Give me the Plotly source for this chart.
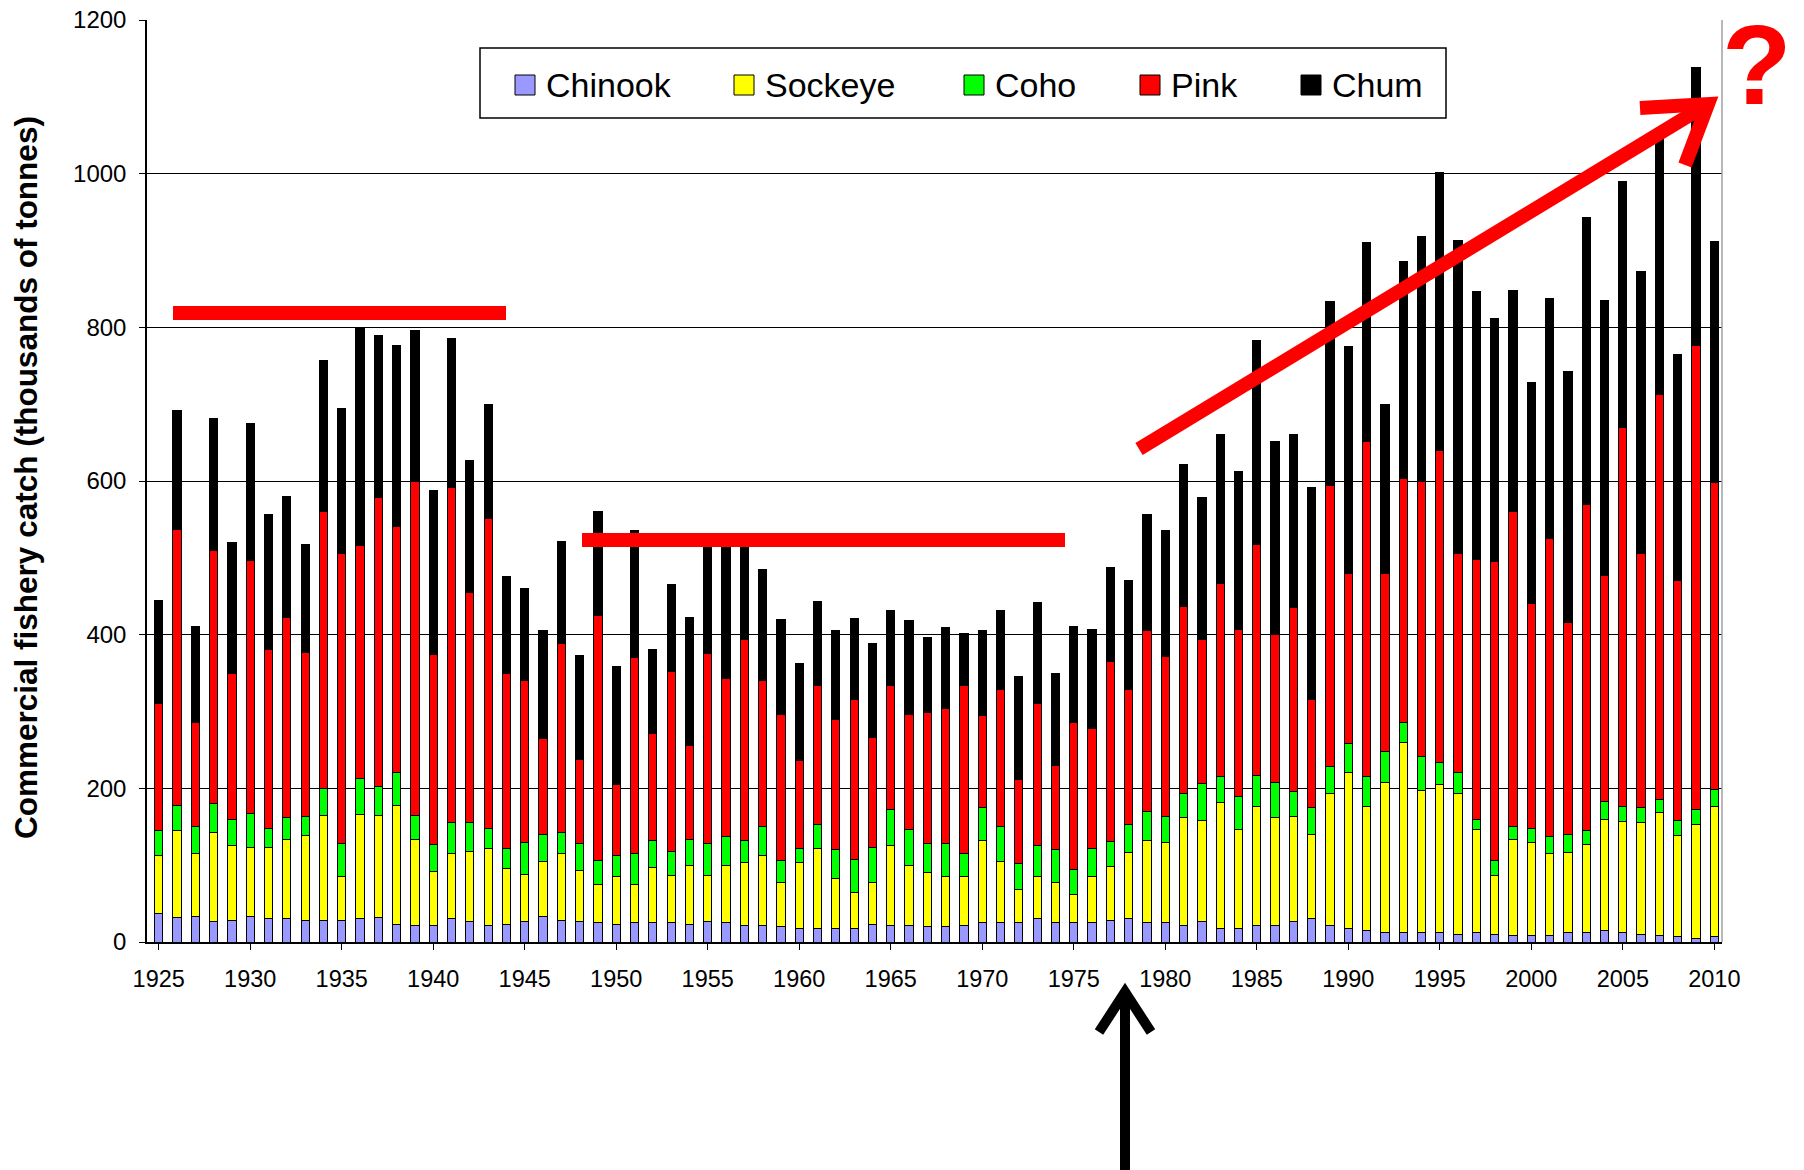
import plotly.graph_objects as go

years = list(range(1925, 2011))

chinook = [37, 32, 33, 27, 28, 33, 30, 30, 28, 28, 28, 30, 32, 23, 22, 22, 30, 27, 22, 23,
           27, 33, 28, 27, 25, 23, 25, 25, 25, 23, 27, 25, 22, 22, 20, 18, 18, 18, 18, 23,
           22, 22, 20, 20, 22, 25, 25, 25, 30, 25, 25, 25, 28, 30, 25, 25, 22, 27, 18, 18,
           22, 22, 27, 30, 22, 18, 15, 13, 13, 13, 13, 10, 13, 10, 8, 8, 8, 13, 12, 15,
           12, 10, 8, 7, 5, 7]
sockeye = [76, 113, 82, 115, 97, 90, 93, 103, 110, 137, 57, 136, 133, 155, 111, 70, 85, 91, 100, 73,
           61, 72, 87, 66, 50, 62, 50, 72, 62, 77, 60, 75, 81, 91, 57, 85, 104, 65, 47, 55,
           103, 78, 70, 65, 63, 107, 80, 43, 55, 53, 37, 60, 70, 87, 107, 105, 140, 131, 164, 128,
           155, 140, 136, 110, 171, 202, 162, 195, 247, 184, 192, 183, 134, 77, 125, 122, 107, 104, 115, 145,
           145, 145, 160, 131, 148, 170]
coho = [32, 33, 35, 38, 35, 44, 25, 29, 25, 35, 43, 47, 38, 42, 32, 35, 40, 37, 26, 26,
        42, 35, 28, 35, 31, 28, 40, 35, 31, 33, 41, 37, 29, 37, 29, 19, 31, 37, 42, 45,
        47, 46, 38, 43, 30, 43, 45, 34, 40, 42, 33, 37, 33, 36, 38, 33, 31, 48, 33, 44,
        40, 46, 33, 35, 35, 38, 38, 40, 26, 45, 28, 27, 13, 19, 17, 18, 22, 23, 18, 23,
        19, 20, 17, 20, 19, 21]
pink = [165, 359, 136, 329, 190, 330, 233, 261, 214, 360, 378, 303, 376, 321, 435, 247, 436, 300, 403, 227,
        210, 125, 245, 110, 319, 92, 255, 140, 234, 123, 248, 206, 262, 190, 190, 114, 181, 169, 209, 143,
        162, 150, 171, 176, 219, 120, 178, 109, 185, 110, 191, 156, 234, 176, 235, 208, 244, 188, 252, 217,
        301, 192, 239, 141, 366, 222, 436, 232, 317, 358, 407, 286, 338, 389, 410, 293, 388, 276, 425, 294,
        493, 331, 527, 312, 605, 400]
chum = [135, 155, 124, 173, 170, 178, 176, 157, 140, 197, 188, 284, 211, 236, 196, 213, 194, 172, 149, 127,
        120, 140, 133, 135, 135, 153, 165, 109, 113, 167, 154, 182, 126, 145, 124, 126, 109, 116, 105, 122,
        98, 122, 97, 105, 68, 111, 104, 134, 132, 120, 124, 129, 122, 141, 152, 164, 185, 184, 193, 205,
        265, 252, 225, 275, 239, 295, 259, 220, 283, 318, 362, 407, 349, 317, 288, 287, 313, 327, 373, 358,
        321, 367, 333, 295, 361, 314]

species = ["Chinook", "Sockeye", "Coho", "Pink", "Chum"]
colors = ["#9999FF", "#FFFF00", "#00FF00", "#FF0000", "#000000"]
series = [chinook, sockeye, coho, pink, chum]

y_ticks = [0, 200, 400, 600, 800, 1000, 1200]
x_ticks = list(range(1925, 2011, 5))

OFF = 8  # page body margin
W, H = 1804 - OFF, 1170 - OFF
PW, PH = 1575, 922
ML, MT = 147 - OFF, 20 - OFF
MR, MB = W - ML - PW, H - MT - PH
FONT = "Liberation Sans, Arial, sans-serif"


def px(x):
    return (x - OFF - ML) / PW


def py(y):
    return 1 - (y - OFF - MT) / PH


fig = go.Figure()
for name, vals, col in zip(species, series, colors):
    fig.add_trace(go.Bar(
        x=years, y=vals, name=name, width=0.45, showlegend=False,
        marker=dict(color=col, line=dict(color="black", width=1)),
    ))

shapes = []
red = "#FF0000"
# plot area right border
shapes.append(dict(type="line", xref="paper", yref="paper", x0=1, x1=1, y0=0, y1=1,
                   line=dict(color="#A0A0A0", width=1.5)))
# red horizontal bars
shapes.append(dict(type="line", xref="paper", yref="paper", x0=px(173), x1=px(506), y0=py(313), y1=py(313),
                   line=dict(color=red, width=14)))
shapes.append(dict(type="line", xref="paper", yref="paper", x0=px(582), x1=px(1065), y0=py(540), y1=py(540),
                   line=dict(color=red, width=14)))
# red arrow shaft + head
shapes.append(dict(type="line", xref="paper", yref="paper", x0=px(1139), y0=py(449), x1=px(1708), y1=py(104),
                   line=dict(color=red, width=14)))
shapes.append(dict(type="path", xref="paper", yref="paper",
                   path="M %f,%f L %f,%f L %f,%f" % (px(1640), py(108), px(1708), py(104), px(1685), py(165)),
                   line=dict(color=red, width=14)))
# black arrow
shapes.append(dict(type="line", xref="paper", yref="paper", x0=px(1125), y0=py(1175), x1=px(1125), y1=py(990),
                   line=dict(color="black", width=10)))
shapes.append(dict(type="path", xref="paper", yref="paper",
                   path="M %f,%f L %f,%f L %f,%f" % (px(1099), py(1032), px(1125), py(992), px(1151), py(1032)),
                   line=dict(color="black", width=10)))

# legend box
shapes.append(dict(type="rect", xref="paper", yref="paper", x0=px(480), x1=px(1446), y0=py(48), y1=py(118),
                   line=dict(color="black", width=1.5), fillcolor="white", layer="above"))
annotations = []
sq_x = [515, 734, 964, 1140, 1301]
for sx, name, col in zip(sq_x, species, colors):
    shapes.append(dict(type="rect", xref="paper", yref="paper", x0=px(sx), x1=px(sx + 20), y0=py(75), y1=py(95),
                       line=dict(color="black", width=1), fillcolor=col, layer="above"))
    annotations.append(dict(xref="paper", yref="paper", x=px(sx + 29), y=py(85), text=name, showarrow=False,
                            xanchor="left", yanchor="middle", font=dict(family=FONT, size=34, color="black")))

annotations.append(dict(xref="paper", yref="paper", x=px(1757), y=py(64), text="<b>?</b>", showarrow=False,
                        xanchor="center", yanchor="middle", borderpad=0,
                        font=dict(family=FONT, size=114, color=red)))

# y-axis title
annotations.append(dict(xref="paper", yref="paper", x=px(26), y=py(478), textangle=-90,
                        text="<b>Commercial fishery catch (thousands of tonnes)</b>", showarrow=False,
                        xanchor="center", yanchor="middle", font=dict(family=FONT, size=31.5, color="black")))

fig.update_layout(
    width=W, height=H, barmode="stack", bargap=0.55,
    margin=dict(l=ML, r=MR, t=MT, b=MB, autoexpand=False),
    paper_bgcolor="white", plot_bgcolor="white",
    font=dict(family=FONT, size=23, color="black"),
    shapes=shapes, annotations=annotations,
    xaxis=dict(range=[1924.36, 2010.42], tickmode="array", tickvals=x_ticks,
               ticktext=[str(v) for v in x_ticks],
               showgrid=False, showline=True, linecolor="black", linewidth=1.5, ticks="outside",
               ticklen=6, tickcolor="black", ticklabelstandoff=9, tickfont=dict(size=23.5),
               zeroline=False, ticklabeloverflow="allow"),
    yaxis=dict(range=[0, 1200], tickmode="array", tickvals=y_ticks, showgrid=True, gridcolor="black",
               gridwidth=1, showline=True, linecolor="black", linewidth=1.5, ticks="outside", ticklen=6,
               tickcolor="black", tickfont=dict(size=24), zeroline=False, ticklabelstandoff=8,
               ticklabeloverflow="allow"),
)

fig.write_html("out.html")
